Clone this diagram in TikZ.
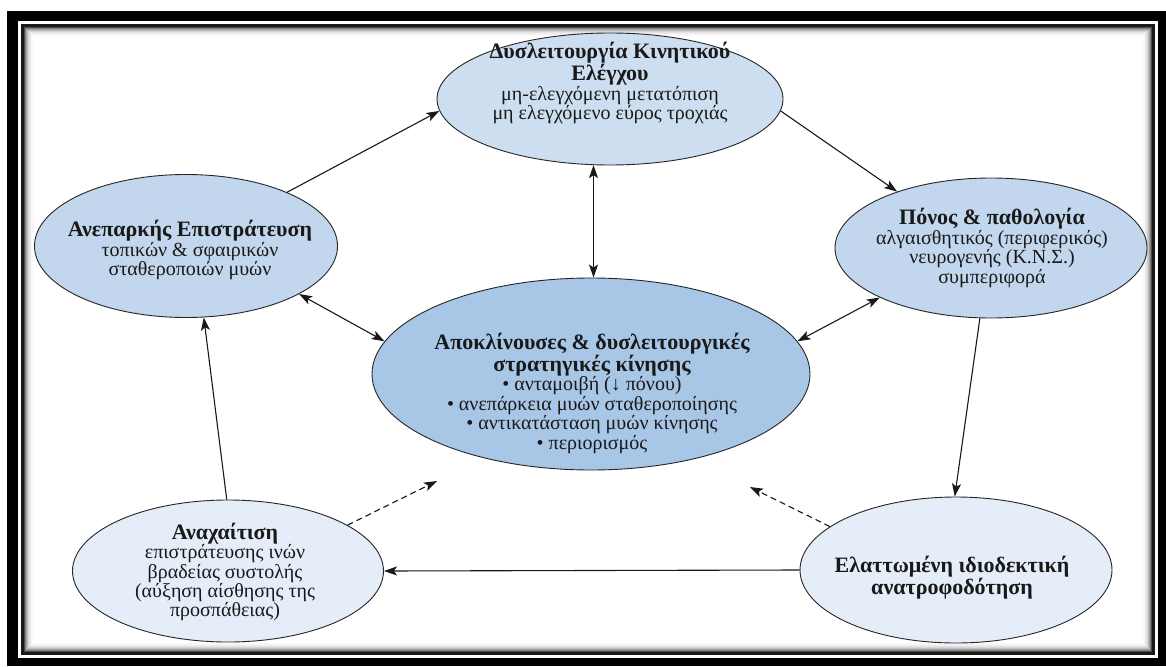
\documentclass[tikz,border=0pt]{standalone}
\usepackage{fontspec}
\setmainfont{Liberation Serif}
\usetikzlibrary{shapes.geometric,arrows.meta}

\definecolor{bluetop}{HTML}{CCDEF0}
\definecolor{blueside}{HTML}{C2D7ED}
\definecolor{bluemid}{HTML}{A8C6E6}
\definecolor{bluepale}{HTML}{E4EDF8}

\newcommand\hd{\fontsize{22}{19.5}\selectfont\bfseries}
\newcommand\tx{\fontsize{20}{19.5}\selectfont\mdseries}

\begin{document}
\begin{tikzpicture}[x=1pt,y=-1pt,
  bub/.style={ellipse, draw=black!85, line width=0.9pt, inner sep=0pt},
  lbl/.style={align=center, inner sep=0pt, text=black!90},
  arr/.style={line width=1.1pt, draw=black!90, -{Stealth[length=13pt,width=9pt,inset=3pt]}},
  dbl/.style={line width=1.1pt, draw=black!90, {Stealth[length=13pt,width=9pt,inset=3pt]}-{Stealth[length=13pt,width=9pt,inset=3pt]}},
  dsh/.style={arr, dash pattern=on 6pt off 4pt},
]
\useasboundingbox (0,0) rectangle (1166,666);
\fill[white] (0,0) rectangle (1166,666);

% double frame with a soft inner shadow
\fill[black] (7,11) rectangle (1166,666);
\fill[white] (18,21) rectangle (1158,658);
\fill[black!90] (21,24) rectangle (1155,655);
\foreach \i/\c in {0/70,1/50,2/36,3/25,4/17,5/11,6/7,7/4,8/2,9/0}
  \fill[black!\c!white] (24+\i,27+\i) rectangle (1152-\i,652-\i);

% ellipses
\node[bub, fill=bluetop,  minimum width=346pt, minimum height=132pt] (top) at (610,99)  {};
\node[bub, fill=blueside, minimum width=303pt, minimum height=143pt] (lft) at (186,246) {};
\node[bub, fill=blueside, minimum width=312pt, minimum height=140pt] (rgt) at (991,248) {};
\node[bub, fill=bluemid,  minimum width=438pt, minimum height=192pt] (mid) at (591,374) {};
\node[bub, fill=bluepale, minimum width=311pt, minimum height=142pt] (bl)  at (228,571) {};
\node[bub, fill=bluepale, minimum width=312pt, minimum height=146pt] (br)  at (956,570) {};

% texts
\node[lbl] (topT) at (610,83) {\hd Δυσλειτουργία Κινητικού\\ \hd Ελέγχου\\ \tx μη-ελεγχόμενη μετατόπιση\\ \tx μη ελεγχόμενο εύρος τροχιάς};
\node[lbl] (lftT) at (190,250) {\hd Ανεπαρκής Επιστράτευση\\ \tx τοπικών \& σφαιρικών\\ \tx σταθεροποιών μυών};
\node[lbl] (rgtT) at (992,248) {\hd Πόνος \& παθολογία\\ \tx αλγαισθητικός (περιφερικός)\\ \tx νευρογενής (Κ.Ν.Σ.)\\ \tx συμπεριφορά};
\node[lbl] (midT) at (592,393) {\hd Αποκλίνουσες \& δυσλειτουργικές\\ \hd στρατηγικές κίνησης\\ \tx • ανταμοιβή (↓ πόνου)\\ \tx • ανεπάρκεια μυών σταθεροποίησης\\ \tx • αντικατάσταση μυών κίνησης\\ \tx • περιορισμός};
\node[lbl] (blT) at (225,572) {\hd Αναχαίτιση\\ \tx επιστράτευσης ινών\\ \tx βραδείας συστολής\\ \tx (αύξηση αίσθησης της\\ \tx προσπάθειας)};
\node[lbl] (brT) at (952,578) {\hd Ελαττωμένη ιδιοδεκτική\\ \hd ανατροφοδότηση};

% connectors
\draw[arr] (lft.28) -- (top.184);
\draw[arr] (top.356) -- (rgt.149);
\draw[dbl] (top.256) -- (top.256 |- mid.north);
\draw[dbl] (lft.337) -- (mid.171);
\draw[dbl] (rgt.204) -- (mid.9);
\draw[arr] (rgt.261) -- (br.91);
\draw[arr] (br.west) -- (bl.east);
\draw[arr] (bl.91) -- (lft.284);
\coordinate (dl) at (437,481);
\coordinate (dr) at (750,487);
\draw[dsh] (bl.21) -- (dl);
\draw[dsh] (br.161) -- (dr);
\end{tikzpicture}
\end{document}
